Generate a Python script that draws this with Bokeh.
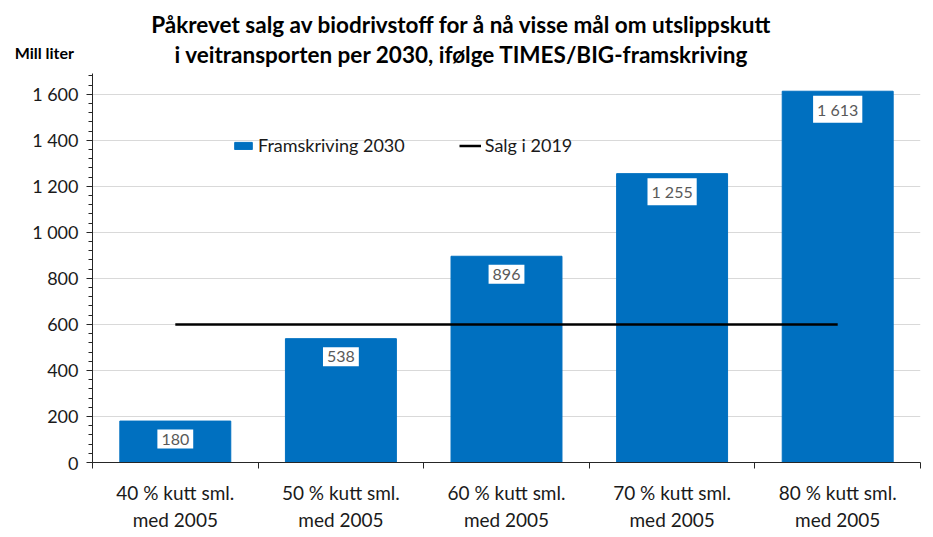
from bokeh.plotting import figure
from bokeh.models import (Range1d, LinearAxis, FixedTicker,
                          SingleIntervalTicker, CustomJSTickFormatter, Label, Legend,
                          LegendItem, ColumnDataSource)
from bokeh.core.properties import value
from bokeh.embed import file_html
from bokeh.resources import INLINE

# ---- data ----
categories = ["40 % kutt sml.\nmed 2005", "50 % kutt sml.\nmed 2005", "60 % kutt sml.\nmed 2005",
              "70 % kutt sml.\nmed 2005", "80 % kutt sml.\nmed 2005"]
framskriving_2030 = [180, 538, 896, 1255, 1613]
salg_2019 = [600, 600, 600, 600, 600]
series_names = ["Framskriving 2030", "Salg i 2019"]
title_lines = ["Påkrevet salg av biodrivstoff for å nå visse mål om utslippskutt",
               "i veitransporten per 2030, ifølge TIMES/BIG-framskriving"]
y_axis_title = "Mill liter"
y_max = 1690
y_step = 200

value_labels = [f"{v:,}".replace(",", " ") for v in framskriving_2030]
n = len(categories)
xpos = [i + 0.5 for i in range(n)]

FONT = "Lato"
TXT = "#1a1a1a"

p = figure(x_range=Range1d(0, n), y_range=Range1d(0, y_max),
           frame_width=828, frame_height=389,
           min_border_left=92, min_border_right=10, min_border_top=73, min_border_bottom=70,
           output_backend="svg", toolbar_location=None, x_axis_location=None,
           outline_line_color=None, background_fill_color="white", border_fill_color="white")

# y axis
p.yaxis.ticker = SingleIntervalTicker(interval=y_step, num_minor_ticks=5)
p.yaxis.formatter = CustomJSTickFormatter(
    code=r"return tick.toString().replace(/\B(?=(\d{3})+(?!\d))/g, ' ');")
p.yaxis.major_label_text_font = FONT
p.yaxis.major_label_text_font_size = "18px"
p.yaxis.major_label_text_color = TXT
p.yaxis.axis_line_color = "#262626"
p.yaxis.major_tick_line_color = "#262626"
p.yaxis.minor_tick_line_color = "#262626"
p.yaxis.major_tick_out = 6
p.yaxis.major_tick_in = 0
p.yaxis.minor_tick_out = 4
p.yaxis.minor_tick_in = 0
p.yaxis.major_label_standoff = 8

p.ygrid.grid_line_color = "#d9d9d9"
p.xgrid.visible = False

# x axis: boundary ticks + category labels
edge_axis = LinearAxis(ticker=FixedTicker(ticks=list(range(n + 1))),
                       major_label_text_color=None, major_label_text_font_size="1px",
                       major_label_standoff=0, major_tick_out=6, major_tick_in=0,
                       minor_tick_line_color=None, axis_line_color="#262626",
                       major_tick_line_color="#262626")
p.add_layout(edge_axis, "below")
cat_axis = LinearAxis(ticker=FixedTicker(ticks=xpos),
                      major_label_overrides={x: c for x, c in zip(xpos, categories)},
                      axis_line_color=None, major_tick_line_color=None,
                      minor_tick_line_color=None,
                      major_label_text_font=FONT, major_label_text_font_size="19px",
                      major_label_text_color=TXT, major_label_standoff=6,
                      major_label_text_line_height=1.2)
p.add_layout(cat_axis, "below")

# bars and line
src = ColumnDataSource(dict(x=xpos, val=framskriving_2030, lab=value_labels))
bars = p.vbar(x="x", top="val", width=0.67, source=src, fill_color="#0070C0",
              line_color="#0070C0")
line = p.line(x=xpos, y=salg_2019, line_color="black", line_width=2.5)

p.text(x="x", y="val", text="lab", source=src, text_align="center",
       text_baseline="middle", y_offset=18, text_font=value(FONT), text_font_size="16px",
       text_color="#595959", background_fill_color="white", padding=4)

legend = Legend(items=[LegendItem(label=series_names[0], renderers=[bars]),
                       LegendItem(label=series_names[1], renderers=[line])],
                orientation="horizontal", location=(140, 306), border_line_color=None,
                background_fill_alpha=0, padding=0, margin=0, spacing=54,
                glyph_width=22, glyph_height=9, label_standoff=4,
                label_text_font=FONT, label_text_font_size="18px", label_text_color=TXT)
p.add_layout(legend)

# titles (side-panel labels so they are not clipped to the frame)
p.add_layout(Label(x=2.23, y=1905, text=title_lines[0], text_align="center",
                   text_baseline="middle", text_font=FONT, text_font_style="bold",
                   text_font_size="22.5px", text_line_height=1.0, text_color="black"), "above")
p.add_layout(Label(x=2.23, y=1772, text=title_lines[1], text_align="center",
                   text_baseline="middle", text_font=FONT, text_font_style="bold",
                   text_font_size="22.5px", text_line_height=1.0, text_color="black"), "above")
p.add_layout(Label(x=-0.47, y=1783, text=y_axis_title, text_align="left",
                   text_baseline="middle", text_font=FONT, text_font_style="bold",
                   text_font_size="16px", text_line_height=1.0, text_color="black"), "above")

open("out.html", "w").write(file_html(p, INLINE))
